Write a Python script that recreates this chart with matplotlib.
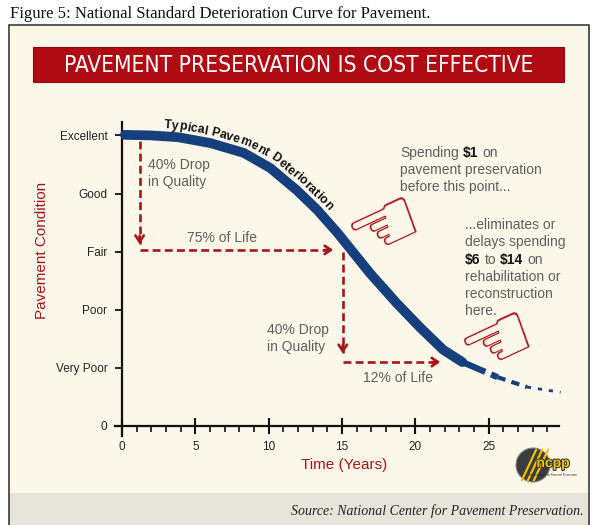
import numpy as np
import matplotlib
matplotlib.use("Agg")
import matplotlib.pyplot as plt
import matplotlib.transforms as mtransforms
import matplotlib.patheffects as pe
from matplotlib.patches import Rectangle, Circle

# values
years = [0.2, 2.0, 3.8, 6.0, 8.3, 10.1, 11.9, 13.3, 14.7, 16.9, 18.7, 20.3, 21.9, 23.2, 25.6, 27.6, 29.9]
condition = [5.01, 5.0, 4.97, 4.87, 4.70, 4.44, 4.06, 3.72, 3.32, 2.63, 2.12, 1.70, 1.31, 1.10, 0.84, 0.67, 0.58]
cond_labels = ["0", "Very Poor", "Poor", "Fair", "Good", "Excellent"]
year_ticks = [0, 5, 10, 15, 20, 25]
minor_ticks = [y for y in range(1, 30) if y % 5]

# dashed arrows: (x start, y start, x tip, y tip)
arrows = [(1.2, 4.9, 1.2, 3.13),
          (1.2, 3.03, 14.4, 3.03),
          (15.05, 3.0, 15.05, 1.25),
          (15.05, 1.1, 21.7, 1.1)]

W, H = 594, 525
CREAM = "#fbf7e9"
BAND = "#e7e4db"
RED = "#a8141b"
BANNER = "#b00b12"
NAVY = "#163f7e"
GRAY = "#5e5e5e"
SANS = ["Liberation Sans", "DejaVu Sans"]
SERIF = ["Liberation Serif", "DejaVu Serif"]

fig = plt.figure(figsize=(W / 100, H / 100), dpi=100)
fig.patch.set_facecolor("white")
ident = mtransforms.IdentityTransform()

def fx(x):
    return x / W

def fy(y):
    return 1 - y / H

# panel, bottom band, frame
fig.add_artist(Rectangle((fx(9), -0.01), fx(589) - fx(9), fy(25) + 0.01, transform=fig.transFigure,
                         facecolor=CREAM, edgecolor="none", zorder=-3))
fig.add_artist(Rectangle((fx(9), -0.01), fx(589) - fx(9), fy(493) + 0.01, transform=fig.transFigure,
                         facecolor=BAND, edgecolor="none", zorder=-2))
fig.add_artist(Rectangle((fx(9), -0.01), fx(589) - fx(9), fy(25) + 0.01, transform=fig.transFigure,
                         facecolor="none", edgecolor="#2b2b2b", lw=1.1, zorder=-1))

fig.text(fx(10), fy(14), "Figure 5: National Standard Deterioration Curve for Pavement.",
         family=SERIF, fontsize=12, color="#111", va="center", ha="left")

# banner
fig.add_artist(Rectangle((fx(33), fy(82)), fx(564) - fx(33), fy(47) - fy(82), transform=fig.transFigure,
                         facecolor=BANNER, edgecolor="#8a0a0e", lw=0.8, zorder=1))
banner = fig.text(fx(298.5), fy(65), "PAVEMENT PRESERVATION IS COST EFFECTIVE",
                  family=["DejaVu Sans"], fontstretch="condensed",
                  fontsize=18, color="white", ha="center", va="center", zorder=2)

ax = fig.add_axes([fx(113.2), fy(443.4), 457.7 / W, 325.4 / H])
ax.set_facecolor("none")
ax.set_xlim(-0.6, 30.6)
ax.set_ylim(-0.3, 5.3)
for side in ["top", "right"]:
    ax.spines[side].set_visible(False)
ax.spines["left"].set_position(("data", 0))
ax.spines["bottom"].set_position(("data", 0))
ax.spines["left"].set_bounds(-0.17, 5.23)
ax.spines["bottom"].set_bounds(-0.5, 29.8)
for side in ["left", "bottom"]:
    ax.spines[side].set_linewidth(1.6)
    ax.spines[side].set_color("#111")

ax.set_yticks(range(6))
ax.set_yticklabels(cond_labels)
ax.set_xticks(year_ticks)
ax.set_xticks(minor_ticks, minor=True)
ax.tick_params(axis="y", length=5, width=1.3, color="#111", pad=5.5, labelsize=8.5,
               labelcolor="#222")
ax.tick_params(axis="x", which="major", direction="inout", length=11, width=1.5, color="#111",
               pad=5, labelsize=8.5, labelcolor="#222")
ax.tick_params(axis="x", which="minor", direction="out", length=4.5, width=1.2, color="#111")
for lab in ax.get_xticklabels() + ax.get_yticklabels():
    lab.set_family(SANS)

ax.set_ylabel("Pavement Condition", color=RED, fontsize=11, family=SANS)
ax.yaxis.set_label_coords(-0.140, 0.594)
ax.set_xlabel("Time (Years)", color=RED, fontsize=11, family=SANS)
ax.xaxis.set_label_coords(0.504, -0.045)

# deterioration curve: thick body then broken tail
ax.plot(years[:14], condition[:14], color=NAVY, lw=7, solid_capstyle="round",
        solid_joinstyle="round", zorder=3)
tail_lw = [4.5, 3.0, 2.0]
tail_ls = [(0, (4, 1)), (0, (2, 1.5)), (0, (1.5, 2.5))]
for i in range(3):
    ax.plot(years[13 + i:15 + i], condition[13 + i:15 + i], color=NAVY, lw=tail_lw[i],
            linestyle=tail_ls[i], zorder=3)

# dashed arrows
for x0, y0, x1, y1 in arrows:
    ax.plot([x0, x1], [y0, y1], color=RED, lw=1.9, linestyle=(0, (3, 1.6)), zorder=2)
    off = (-6, 0) if y0 == y1 else (0, 6)
    ax.annotate("", xy=(x1, y1), xytext=off, textcoords="offset points",
                arrowprops=dict(arrowstyle="->,head_length=0.45,head_width=0.3", color=RED, lw=1.9,
                                shrinkA=0, shrinkB=0), zorder=2)

# pointing hands
ax.text(17.95, 3.42, "\u261C", fontsize=60, color=RED, rotation=25, ha="center", va="center",
        family=["DejaVu Sans"], zorder=4)
ax.text(25.65, 1.44, "\u261C", fontsize=60, color=RED, rotation=25, ha="center", va="center",
        family=["DejaVu Sans"], zorder=4)

fig.canvas.draw()
renderer = fig.canvas.get_renderer()

# fit banner text to width
bw = banner.get_window_extent(renderer).width
banner.set_fontsize(18 * 470 / bw)


def width(txt, size, bold=False):
    t = fig.text(0, 0, txt, fontsize=size, family=SANS, fontweight="bold" if bold else "normal",
                 parse_math=False)
    w = t.get_window_extent(renderer).width
    t.remove()
    return w


def rich(x, y, parts, size=10):
    sp = width("a a", size) - width("aa", size)
    dx = 0
    for txt, bold in parts:
        tr = mtransforms.offset_copy(ax.transData, fig, x=dx, y=0, units="dots")
        ax.text(x, y, txt, transform=tr, fontsize=size, family=SANS, parse_math=False,
                fontweight="bold" if bold else "normal", color="#111" if bold else GRAY,
                va="center", ha="left", zorder=5)
        dx += width(txt, size, bold) + sp


def block(x, y, rows, dy, size=10):
    for i, row in enumerate(rows):
        rich(x, y - i * dy, row, size)


block(1.77, 4.49, [[("40% Drop", 0)], [("in Quality", 0)]], 0.295)
ax.text(6.8, 3.24, "75% of Life", fontsize=10, family=SANS, color=GRAY, ha="center", va="center")
block(9.9, 1.65, [[("40% Drop", 0)], [("in Quality", 0)]], 0.295)
ax.text(18.8, 0.82, "12% of Life", fontsize=10, family=SANS, color=GRAY, ha="center", va="center")
block(18.95, 4.70, [[("Spending", 0), ("$1", 1), ("on", 0)],
                    [("pavement preservation", 0)],
                    [("before this point...", 0)]], 0.29)
block(23.4, 3.46, [[("...eliminates or", 0)],
                   [("delays spending", 0)],
                   [("$6", 1), ("to", 0), ("$14", 1), ("on", 0)],
                   [("rehabilitation or", 0)],
                   [("reconstruction", 0)],
                   [("here.", 0)]], 0.298)

# curve label following the curve
pts = ax.transData.transform(np.column_stack([years, condition]))
arc = np.concatenate([[0], np.cumsum(np.hypot(*np.diff(pts, axis=0).T))])


def at(s):
    return np.array([np.interp(s, arc, pts[:, 0]), np.interp(s, arc, pts[:, 1])])


s = np.interp(ax.transData.transform((2.8, 5.0))[0], pts[:, 0], arc)
lsize = 8.8
space = width("a a", lsize, True) - width("aa", lsize, True)
for ch in "Typical Pavement Deterioration":
    w = space if ch == " " else width(ch, lsize, True)
    mid = s + w / 2
    d = at(mid + 8) - at(mid - 8)
    d = d / np.hypot(*d)
    n = np.array([-d[1], d[0]])
    pos = at(mid) + n * 8
    if ch != " ":
        fig.text(pos[0], pos[1], ch, transform=ident, rotation=np.degrees(np.arctan2(d[1], d[0])),
                 rotation_mode="anchor", ha="center", va="baseline", fontsize=lsize,
                 fontweight="bold", family=SANS, color="#111")
    s += w

# ncpp logo
fig.add_artist(Circle((533, H - 465), 17, transform=ident, facecolor="#3c3c3c",
                      edgecolor="#888", lw=0.8, zorder=2))
for k in range(3):
    fig.add_artist(plt.Line2D([522 + 6 * k, 536 + 6 * k], [H - 480, H - 450], transform=ident,
                              color="#f0c000", lw=1.6, zorder=3))
fig.text(553, H - 463, "ncpp", transform=ident, fontsize=10, fontweight="bold", family=SANS,
         color="#f2c200", ha="center", va="center", zorder=4,
         path_effects=[pe.withStroke(linewidth=1.5, foreground="#333")])
fig.text(553, H - 475, "National Center for Pavement Preservation", transform=ident, fontsize=1.8,
         family=SANS, color="#222", ha="center", va="center", zorder=4)

fig.text(fx(584), fy(511), "Source: National Center for Pavement Preservation.", family=SERIF,
         style="italic", fontsize=10, color="#222", ha="right", va="center")

fig.savefig("out.png", dpi=100, facecolor="white")
